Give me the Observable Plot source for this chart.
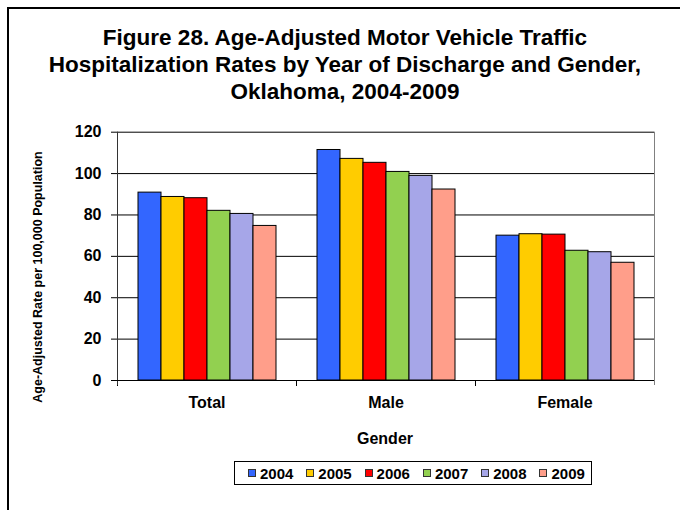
<!DOCTYPE html>
<html>
<head>
<meta charset="utf-8">
<script src="https://cdn.jsdelivr.net/npm/d3@7"></script>
<script src="https://cdn.jsdelivr.net/npm/@observablehq/plot@0.6"></script>
<style>
  html, body { margin: 0; padding: 0; background: #fff; overflow: hidden; }
  body { font-family: "Liberation Sans", Arial, sans-serif; color: #000; }
  #wrap { position: relative; width: 680px; height: 510px; overflow: hidden; background: #fff; }
  #border { position: absolute; left: 7px; top: 7px; width: 673px; height: 503px;
            border-left: 2px solid #000; border-top: 2px solid #000; box-sizing: border-box; }
  #title { position: absolute; left: 8px; width: 674px; top: 24px; text-align: center;
           font-weight: bold; font-size: 22.5px; line-height: 27px; }
  #chart { position: absolute; left: 0; top: 110px; }
  #ytitle { position: absolute; left: 38px; top: 277px; white-space: nowrap;
            transform: translate(-50%, -50%) rotate(-90deg); font-weight: bold; font-size: 12.5px; line-height: 14px; }
  #xtitle { position: absolute; left: 385px; top: 431px; transform: translateX(-50%);
            font-weight: bold; font-size: 16px; line-height: 16px; white-space: nowrap; }
  #legend { position: absolute; left: 234px; top: 461px; width: 358px; height: 24px; border: 1px solid #000;
            display: flex; align-items: center; padding-left: 13px; box-sizing: border-box; }
  .item { display: flex; align-items: center; width: 58.3px; flex: none; }
  .sw { width: 6px; height: 6px; border: 1px solid #333; margin-right: 4px; flex: none; }
  .lab { font-weight: bold; font-size: 15px; line-height: 15px; }
</style>
</head>
<body>
<div id="wrap">
  <div id="border"></div>
  <div id="title">Figure 28. Age-Adjusted Motor Vehicle Traffic<br>Hospitalization Rates by Year of Discharge and Gender,<br>Oklahoma, 2004-2009</div>
  <div id="chart"></div>
  <div id="ytitle">Age-Adjusted Rate per 100,000 Population</div>
  <div id="xtitle">Gender</div>
  <div id="legend"></div>
</div>
<script>
const genders = ["Total", "Male", "Female"];
const years = ["2004", "2005", "2006", "2007", "2008", "2009"];
const totalRates = [90.8, 88.7, 88.1, 82.0, 80.5, 74.7];
const maleRates = [111.4, 107.1, 105.2, 100.8, 98.9, 92.3];
const femaleRates = [70.0, 70.7, 70.5, 62.7, 62.0, 56.9];
const yearColors = ["#3366FF", "#FFCC00", "#FF0000", "#92D050", "#A6A6E8", "#FF9E8A"];
const yTicks = [0, 20, 40, 60, 80, 100, 120];

const series = [totalRates, maleRates, femaleRates];
const data = genders.flatMap((g, gi) => years.map((yr, yi) => ({gender: g, year: yr, value: series[gi][yi]})));

const W = 680, H = 310, mT = 21.7, mB = 40, mL = 116, mR = 26;
const plotH = H - mT - mB;

const chart = Plot.plot({
  width: W, height: H, marginTop: mT, marginBottom: mB, marginLeft: mL, marginRight: mR,
  style: {fontFamily: '"Liberation Sans", Arial, sans-serif', background: "transparent", color: "#000", overflow: "visible"},
  fx: {domain: genders, padding: 0, label: null},
  x: {domain: years, paddingInner: 0, paddingOuter: 0.75, axis: null},
  y: {domain: [0, 120], label: null},
  color: {domain: years, range: yearColors},
  marks: [
    Plot.ruleY(yTicks.slice(1), {stroke: "#000", strokeWidth: 1}),
    Plot.barY(data, {fx: "gender", x: "year", y: "value", fill: "year", stroke: "#000", strokeWidth: 1}),
    Plot.frame({facet: "super", anchor: "right", stroke: "#808080", insetBottom: -4}),
    Plot.frame({anchor: "left", stroke: "#000", insetTop: plotH, insetBottom: -5}),
    Plot.frame({facet: "super", anchor: "left", stroke: "#333", insetBottom: -4}),
    Plot.ruleY([0], {stroke: "#000", strokeWidth: 1.2}),
    Plot.axisY({ticks: yTicks, tickSize: 6, tickPadding: 10, fontSize: 16, fontWeight: "bold", label: null}),
    Plot.axisFx({anchor: "bottom", tickSize: 0, tickPadding: 16, fontSize: 16, fontWeight: "bold", label: null})
  ]
});
document.getElementById("chart").appendChild(chart);

const legend = document.getElementById("legend");
years.forEach((yr, i) => {
  const it = document.createElement("div");
  it.className = "item";
  const sw = document.createElement("div");
  sw.className = "sw";
  sw.style.background = yearColors[i];
  const lab = document.createElement("span");
  lab.className = "lab";
  lab.textContent = yr;
  it.appendChild(sw);
  it.appendChild(lab);
  legend.appendChild(it);
});
</script>
</body>
</html>
